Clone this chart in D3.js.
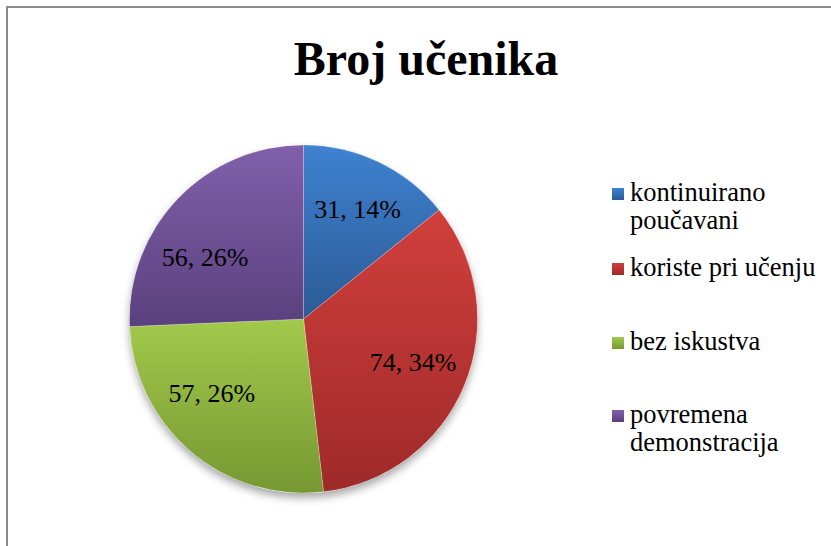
<!DOCTYPE html>
<html>
<head>
    <meta charset="UTF-8">
    <title>Broj učenika</title>
    <script src="https://d3js.org/d3.v7.min.js"></script>
</head>
<style>
    html,body {
        margin: 0;
        padding: 0;
        background: #fff;
    }
</style>
<body>
    <div id="svg"></div>
</body>
<script>
    // data
    const categories = ['kontinuirano poučavani', 'koriste pri učenju', 'bez iskustva', 'povremena demonstracija'];
    const values = [31, 74, 57, 56];
    const legendLines = [['kontinuirano', 'poučavani'], ['koriste pri učenju'], ['bez iskustva'], ['povremena', 'demonstracija']];
    const colorsTop = ['#3e82d0', '#d13f3c', '#a2c94b', '#8160ab'];
    const colorsBottom = ['#2c5a96', '#9e2a29', '#769832', '#5a407e'];

    const width = 831;
    const height = 546;
    const font = '"Liberation Serif", "Times New Roman", serif';

    const svg = d3.select('#svg').append('svg')
        .attr('width', width)
        .attr('height', height);

    // chart frame (cut off on the right and bottom, like the screenshot)
    svg.append('rect')
        .attr('x', 7).attr('y', 7)
        .attr('width', width + 10).attr('height', height + 10)
        .attr('fill', '#fff')
        .attr('stroke', '#8c8c8c')
        .attr('stroke-width', 2);

    // title
    svg.append('text')
        .attr('x', 426).attr('y', 75)
        .attr('text-anchor', 'middle')
        .style('font-family', font)
        .style('font-weight', 'bold')
        .style('font-size', '48px')
        .text('Broj učenika');

    const defs = svg.append('defs');
    // gradient per slice, light at top, darker at bottom
    categories.forEach((c, i) => {
        const g = defs.append('linearGradient')
            .attr('id', 'grad' + i)
            .attr('x1', 0).attr('y1', 0).attr('x2', 0).attr('y2', 1);
        g.append('stop').attr('offset', '0%').attr('stop-color', colorsTop[i]);
        g.append('stop').attr('offset', '100%').attr('stop-color', colorsBottom[i]);
    });
    const shadow = defs.append('filter').attr('id', 'shadow')
        .attr('x', '-20%').attr('y', '-20%').attr('width', '140%').attr('height', '140%');
    shadow.append('feDropShadow')
        .attr('dx', 0).attr('dy', 5).attr('stdDeviation', 4)
        .attr('flood-color', '#000').attr('flood-opacity', 0.35);

    const cx = 303.5, cy = 319, radius = 174;
    const pie = d3.pie().sort(null).value(d => d);
    const arcs = pie(values);
    const total = d3.sum(values);
    const arc = d3.arc().innerRadius(0).outerRadius(radius);
    const labelArc = d3.arc().innerRadius(radius * 0.68).outerRadius(radius * 0.68);
    // small nudges so labels sit where excel's "best fit" put them
    const labelNudge = [[3, -3], [0, -2], [-15, -16], [-13, 20]];

    const g = svg.append('g').attr('transform', `translate(${cx},${cy})`);
    // shadow disc behind the slices
    g.append('circle')
        .attr('r', radius)
        .attr('fill', '#fff')
        .attr('filter', 'url(#shadow)');

    g.selectAll('path').data(arcs).enter().append('path')
        .attr('d', arc)
        .attr('fill', (d, i) => `url(#grad${i})`)
        .attr('stroke', 'rgba(255,255,255,0.35)')
        .attr('stroke-width', 0.6);

    g.selectAll('text.lbl').data(arcs).enter().append('text')
        .attr('class', 'lbl')
        .attr('transform', (d, i) => {
            const [x, y] = labelArc.centroid(d);
            return `translate(${x + labelNudge[i][0]},${y + labelNudge[i][1]})`;
        })
        .attr('text-anchor', 'middle')
        .attr('dy', '0.35em')
        .style('font-family', font)
        .style('font-size', '26px')
        .style('fill', '#000')
        .text(d => `${d.data}, ${Math.round(d.data / total * 100)}%`);

    // legend
    const legendY = [201, 276, 350, 423];
    const legend = svg.append('g');
    categories.forEach((c, i) => {
        legend.append('rect')
            .attr('x', 612).attr('y', legendY[i] - 13)
            .attr('width', 12).attr('height', 12)
            .attr('fill', `url(#grad${i})`);
        const t = legend.append('text')
            .attr('x', 630).attr('y', legendY[i])
            .style('font-family', font)
            .style('font-size', '26.5px')
            .style('fill', '#000');
        legendLines[i].forEach((line, j) => {
            t.append('tspan').attr('x', 630).attr('dy', j === 0 ? 0 : 28).text(line);
        });
    });
</script>
</html>
